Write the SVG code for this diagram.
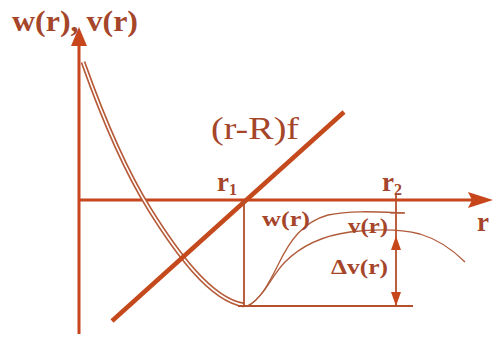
<svg xmlns="http://www.w3.org/2000/svg" width="495" height="338" viewBox="0 0 495 338">
<style>
.lbl{font-family:"Liberation Serif","Times New Roman",serif;fill:#a5452a;font-weight:bold}
.reg{font-family:"Liberation Serif","Times New Roman",serif;fill:#a5452a}
.axis{stroke:#c8461c;stroke-width:3;fill:none}
.thin{stroke:#b05a3a;stroke-width:1.3;fill:none}
.ref{stroke:#b4502c;stroke-width:1.8;fill:none}
.ah{fill:#c8461c}
</style>
<rect width="495" height="338" fill="#ffffff"/>
<g id="axes">
<line class="axis" x1="79" y1="42" x2="79" y2="334"/>
<polygon class="ah" points="79,27 71,46 87,46"/>
<line class="axis" x1="79" y1="200" x2="472" y2="200"/>
<polygon class="ah" points="493,200 468,192 472,200 468,208"/>
</g>
<g id="potential">
<path d="M83,62 C100,110 125,170 150,210 C175,250 210,300 244,305" stroke="#b65a38" stroke-width="5" fill="none"/>
<path d="M83,62 C100,110 125,170 150,210 C175,250 210,300 244,305" stroke="#ffffff" stroke-width="1.6" fill="none"/>
</g>
<g id="force-line">
<line x1="112" y1="321" x2="344" y2="112" stroke="#c44a1e" stroke-width="4.5"/>
</g>
<g id="guides">
<line class="ref" x1="244" y1="200" x2="244" y2="306"/>
<line class="ref" x1="238" y1="306" x2="413" y2="306"/>
<line class="ref" x1="396" y1="195" x2="396" y2="306"/>
<line class="thin" x1="390" y1="213" x2="404" y2="213"/>
<polygon class="ah" points="396,236 391,250 401,250"/>
<polygon class="ah" points="396,306 391,292 401,292"/>
</g>
<g id="curves">
<path class="thin" d="M247,306 C260,300 268,285 278,265 C290,240 303,222 328,215 C350,210 380,212 405,213"/>
<path class="thin" d="M250,305 C265,295 272,275 285,262 C300,247 320,236 350,232 C375,229 400,229 420,234 C440,240 455,252 465,262"/>
</g>
<g id="labels">
<text class="lbl" x="12" y="31" font-size="30" textLength="126" lengthAdjust="spacingAndGlyphs">w(r), v(r)</text>
<text class="reg" x="211" y="139" font-size="31" textLength="88" lengthAdjust="spacingAndGlyphs">(r-R)f</text>
<text class="lbl" x="217" y="191" font-size="27">r<tspan font-size="16" dy="4">1</tspan></text>
<text class="lbl" x="382" y="191" font-size="27">r<tspan font-size="16" dy="4">2</tspan></text>
<text class="lbl" x="477" y="231" font-size="27">r</text>
<text class="lbl" x="262" y="226" font-size="21" textLength="48" lengthAdjust="spacingAndGlyphs">w(r)</text>
<text class="lbl" x="348" y="233" font-size="21" textLength="40" lengthAdjust="spacingAndGlyphs">v(r)</text>
<text class="lbl" x="331" y="274" font-size="21" textLength="57" lengthAdjust="spacingAndGlyphs">Δv(r)</text>
</g>
</svg>
